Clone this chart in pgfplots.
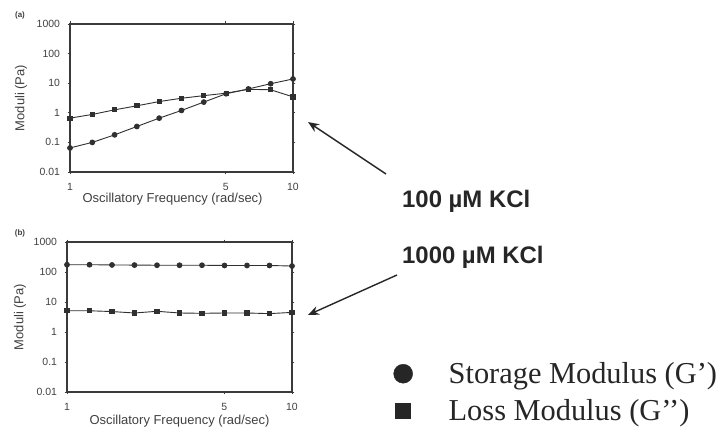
\documentclass[border=0pt]{standalone}
\usepackage{pgfplots}
\pgfplotsset{compat=1.18}
\usepackage{pgfplotstable}
\usepackage{fontspec}
\setmainfont{Liberation Sans}
\newfontfamily\legendfont{Liberation Serif}
\usetikzlibrary{arrows.meta}

\definecolor{axgray}{HTML}{3A3A3A}
\definecolor{txtgray}{HTML}{404040}
\definecolor{datagray}{HTML}{303030}

% Frequencies (rad/s): 11 points, log-spaced over one decade
% (a) 100 uM KCl
\pgfplotstableread{
w      Gp     Gpp
1.000  0.065  0.66
1.259  0.100  0.88
1.585  0.180  1.26
1.995  0.345  1.72
2.512  0.660  2.40
3.162  1.200  3.10
3.981  2.300  3.80
5.012  4.400  4.60
6.310  6.400  6.20
7.943  9.600  6.00
10.00  13.90  3.45
}\tblA
% (b) 1000 uM KCl
\pgfplotstableread{
w      Gp     Gpp
1.000  175    5.1
1.259  175    5.1
1.585  172    4.8
1.995  170    4.3
2.512  168    4.9
3.162  168    4.3
3.981  168    4.2
5.012  165    4.3
6.310  165    4.3
7.943  165    4.1
10.00  158    4.5
}\tblB

\pgfplotsset{
  rheo/.style={
    scale only axis, anchor=south west,
    xmin=1, xmax=10, ymin=0.01, ymax=1000,
    xtick={1,5,10}, xticklabels={1,5,10},
    ytick={0.01,0.1,1,10,100,1000},
    yticklabels={0.01,0.1,1,10,100,1000},
    /pgf/number format/assume math mode=true,
    minor tick length=0pt, major tick length=2.5bp, tick align=outside,
    tick style={draw=axgray, line width=0.8bp},
    axis line style={draw=axgray, line width=1.2bp},
    tick label style={font=\fontsize{10.5}{12}\selectfont, text=txtgray},
    yticklabel style={xshift=-4bp},
    xticklabel style={yshift=-5bp},
    label style={font=\fontsize{13}{15}\selectfont, text=txtgray},
    xlabel={Oscillatory Frequency (rad/sec)},
    ylabel={Moduli (Pa)},
    clip=false,
  },
  gp/.style={datagray, line width=0.9bp, mark=*, mark size=2.4bp,
    mark options={fill=datagray, draw=datagray}},
  gpp/.style={datagray, line width=0.9bp, mark=square*, mark size=2.1bp,
    mark options={fill=datagray, draw=datagray}},
}

\begin{document}
\begin{tikzpicture}
\path[use as bounding box] (0bp,0bp) rectangle (725bp,430bp);

% Panel (a): 100 uM KCl
\begin{loglogaxis}[rheo, at={(70bp,258bp)}, width=223bp, height=148bp,
  xlabel style={at={(axis description cs:0.46,0)}, anchor=center, yshift=-27bp},
  ylabel style={at={(axis description cs:-0.22,0.5)}, anchor=center},
]
\addplot[gpp] table[x=w, y=Gpp] {\tblA};
\addplot[gp]  table[x=w, y=Gp]  {\tblA};
\end{loglogaxis}

% Panel (b): 1000 uM KCl
\begin{loglogaxis}[rheo, at={(67bp,38bp)}, width=225bp, height=150bp,
  xlabel style={at={(axis description cs:0.5,0)}, anchor=center, yshift=-29bp},
  ylabel style={at={(axis description cs:-0.209,0.5)}, anchor=center},
  legend style={draw=none, fill=none, inner sep=0pt,
    at={(axis description cs:1.451,0)}, anchor=west,
    font=\legendfont\fontsize{30.5}{34}\selectfont, text=black!85,
    row sep=10bp,
    nodes={inner xsep=0pt},
    /tikz/every odd column/.append style={column sep=36bp}},
  legend cell align=left,
]
\addplot[gp, forget plot]  table[x=w, y=Gp]  {\tblB};
\addplot[gpp, forget plot] table[x=w, y=Gpp] {\tblB};
\addlegendimage{only marks, mark=*, mark size=9.5bp,
  mark options={fill=black!85, draw=black!85}}
\addlegendentry{Storage Modulus (G’)}
\addlegendimage{only marks, mark=square*, mark size=7.5bp,
  mark options={fill=black!85, draw=black!85}}
\addlegendentry{Loss Modulus (G’’)}
\end{loglogaxis}

\begin{scope}[x=1bp, y=1bp]
% panel tags
\node[font=\bfseries\fontsize{8}{9}\selectfont, text=txtgray] at (20,415) {(a)};
\node[font=\bfseries\fontsize{8}{9}\selectfont, text=txtgray] at (20,197) {(b)};

% salt concentration annotations
\node[anchor=base west, font=\bfseries\fontsize{24}{28}\selectfont, text=black!85, inner sep=0pt]
  at (402,223) {100 µM KCl};
\node[anchor=base west, font=\bfseries\fontsize{24}{28}\selectfont, text=black!85, inner sep=0pt]
  at (402,167) {1000 µM KCl};
\draw[black!85, line width=1.4bp, -{Stealth[length=11bp, width=9bp]}] (386,256) -- (308,308);
\draw[black!85, line width=1.4bp, -{Stealth[length=11bp, width=9bp]}] (397,155) -- (308,115);
\end{scope}
\end{tikzpicture}
\end{document}
